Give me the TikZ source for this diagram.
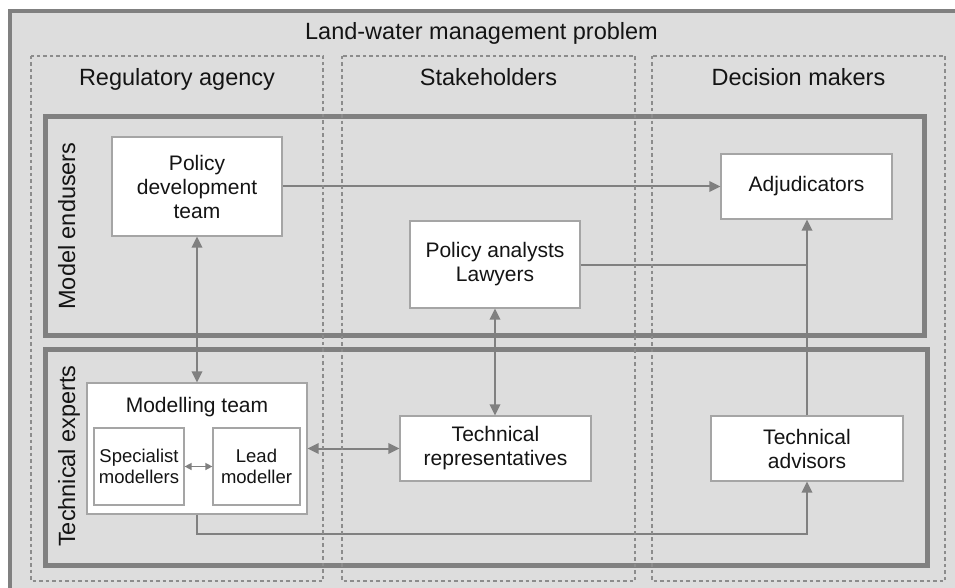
\documentclass[tikz,border=0pt]{standalone}
\usepackage{fontspec}
\setmainfont{Liberation Sans}
\usetikzlibrary{arrows.meta}
\definecolor{panel}{RGB}{221,221,221}
\definecolor{frame}{RGB}{128,128,128}
\definecolor{boxline}{RGB}{165,165,165}
\definecolor{dashline}{RGB}{140,140,140}
\definecolor{ink}{RGB}{20,20,20}
\begin{document}
\begin{tikzpicture}[x=1pt,y=-1pt,
  heading/.style={text=ink, inner sep=0pt, anchor=base, font=\fontsize{23.5}{28}\selectfont},
  actor/.style={draw=boxline, line width=1.2pt, fill=white, align=center, inner sep=0pt,
    text=ink, font=\fontsize{21}{24}\selectfont},
  member/.style={actor, font=\fontsize{18.5}{20.5}\selectfont},
  column/.style={draw=dashline, line width=1.4pt, dash pattern=on 3.5pt off 3pt},
  group/.style={draw=frame, line width=5pt},
  link/.style={draw=frame, line width=2pt},
  tip/.style={-{Triangle[length=11pt,width=10.5pt]}},
  tips/.style={{Triangle[length=11pt,width=10.5pt]}-{Triangle[length=11pt,width=10.5pt]}},
  smalltips/.style={{Triangle[length=7pt,width=7pt]}-{Triangle[length=7pt,width=7pt]}, line width=1.4pt}
]
\useasboundingbox (0,0) rectangle (955,588);

% overall problem frame (runs off the lower right edge)
\draw[draw=frame, line width=3.5pt, fill=panel] (10,11) rectangle (975,600);
\node[heading] (title) at (481.5,40) {Land-water management problem};

% role groups
\draw[group] (45,117) rectangle (924,335);
\draw[group] (45,349) rectangle (927,565);
\node[heading, rotate=90] (endusers) at (75,226) {Model endusers};
\node[heading, rotate=90] (experts) at (75,456) {Technical experts};

% column headings
\node[heading] (agency) at (177,86) {Regulatory agency};
\node[heading] (stake) at (488.5,86) {Stakeholders};
\node[heading] (decide) at (798.5,86) {Decision makers};

% actors
\node[actor, minimum width=170pt, minimum height=99pt] (poldev) at (197,186.5) {Policy\\development\\team};
\node[actor, minimum width=171pt, minimum height=65pt] (adj) at (806.5,186.5) {Adjudicators};
\node[actor, minimum width=170pt, minimum height=87pt] (ana) at (495,264.5) {Policy analysts\\Lawyers};
\node[actor, minimum width=220pt, minimum height=131pt] (mteam) at (197,448.5) {};
\node[text=ink, inner sep=0pt, font=\fontsize{21}{24}\selectfont] (mtitle) at (197,407) {Modelling team};
\node[member, minimum width=90pt, minimum height=77pt] (spec) at (139,466.5) {Specialist\\modellers};
\node[member, minimum width=87pt, minimum height=77pt] (lead) at (256.5,466.5) {Lead\\modeller};
\node[actor, minimum width=191pt, minimum height=65pt] (reps) at (495.5,448.5) {Technical\\representatives};
\node[actor, minimum width=192pt, minimum height=65pt] (adv) at (807,448.5) {Technical\\advisors};

% connectors
\draw[link, tip] (poldev.east) -- (adj.west);
\draw[link, tips] (poldev.south) -- (mteam.north);
\draw[link] (ana.east) -- (ana.east -| adv.north);
\draw[link, tip] (adv.north) -- (adv.north |- adj.south);
\draw[link, tips] (ana.south) -- (ana.south |- reps.north);
\draw[link, tips] (mteam.east) -- (reps.west);
\draw[draw=frame, smalltips] (spec.east) -- (lead.west);
\draw[link, tip] (mteam.south) -- ++(0,19) -| (adv.south);

% organisational columns
\draw[column] (31,56) rectangle (323,581);
\draw[column] (342,56) rectangle (635,581);
\draw[column] (652,56) rectangle (945,581);
\end{tikzpicture}
\end{document}
